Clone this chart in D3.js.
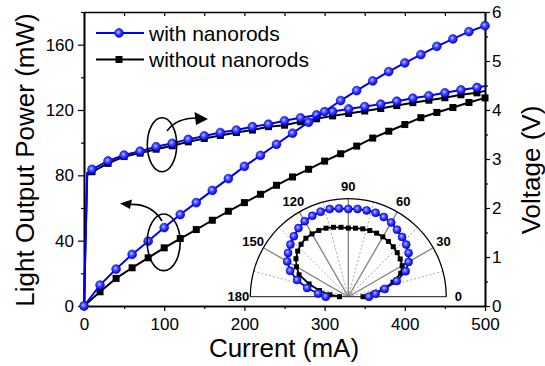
<!DOCTYPE html>
<html>
<head>
<meta charset="utf-8">
<script src="https://d3js.org/d3.v7.min.js"></script>
<style>
body { margin: 0; background: #fff; }
svg text { font-family: "Liberation Sans", Arial, sans-serif; fill: #000; }
</style>
</head>
<body>
<div id="chart"></div>
<script>
// light output power (mW) vs current (mA)
const lightCurrent = [0, 20, 40, 60, 80, 100, 120, 140, 160, 180, 200, 220, 240, 260, 280, 300, 320, 340, 360, 380, 400, 420, 440, 460, 480, 500]
const lightWith = [0, 12.8, 22.6, 31.6, 39.7, 48, 56, 63.3, 70.8, 78, 85.5, 92.2, 99, 105.8, 112.5, 119, 125.8, 131.9, 137.8, 143.5, 148.8, 153.9, 159, 163.5, 168, 171.6]
const lightWithout = [0, 8.7, 16.9, 23.4, 29.5, 35.6, 41.3, 46.8, 52.5, 58, 63.3, 68.4, 73.9, 79, 83.7, 88.7, 93.2, 97.9, 102.8, 107, 111.1, 115.3, 118.5, 121.5, 124.6, 127.4]

// forward voltage (V) vs current (mA)
const voltCurrent = [0, 4, 10, 30, 50, 70, 90, 110, 130, 150, 170, 190, 210, 230, 250, 270, 290, 310, 330, 350, 370, 390, 410, 430, 450, 470, 490, 500]
const voltWith = [0, 2.72, 2.79, 2.96, 3.08, 3.16, 3.25, 3.32, 3.40, 3.47, 3.54, 3.59, 3.66, 3.71, 3.78, 3.84, 3.90, 3.97, 4.02, 4.07, 4.12, 4.18, 4.24, 4.29, 4.35, 4.41, 4.46, 4.49]
const voltWithout = [0, 2.67, 2.74, 2.91, 3.05, 3.12, 3.20, 3.27, 3.35, 3.42, 3.48, 3.54, 3.59, 3.66, 3.69, 3.76, 3.82, 3.88, 3.93, 3.98, 4.03, 4.09, 4.15, 4.20, 4.25, 4.31, 4.35, 4.39]

// far-field pattern (inset), normalised intensity vs angle (deg)
const polarAngle = [0, 6, 12, 18, 24, 30, 36, 42, 48, 54, 60, 66, 72, 78, 84, 90, 96, 102, 108, 114, 120, 126, 132, 138, 144, 150, 156, 162, 168, 174, 180]
const polarWith = [0.21, 0.28, 0.38, 0.52, 0.64, 0.71, 0.76, 0.795, 0.82, 0.845, 0.875, 0.89, 0.90, 0.90, 0.90, 0.895, 0.905, 0.915, 0.912, 0.903, 0.89, 0.865, 0.83, 0.795, 0.76, 0.72, 0.65, 0.55, 0.43, 0.31, 0.23]
const polarWithout = [0.15, 0.25, 0.36, 0.48, 0.585, 0.635, 0.655, 0.672, 0.686, 0.697, 0.705, 0.71, 0.71, 0.708, 0.703, 0.70, 0.712, 0.724, 0.735, 0.74, 0.74, 0.737, 0.72, 0.695, 0.66, 0.61, 0.55, 0.42, 0.30, 0.19, 0.09]
const polarLabels = [0, 30, 60, 90, 120, 150, 180]

// ticks
const xTicks = [0, 100, 200, 300, 400, 500]
const xMinor = [50, 150, 250, 350, 450]
const yLTicks = [0, 40, 80, 120, 160]
const yLMinor = [20, 60, 100, 140, 180]
const yRTicks = [0, 1, 2, 3, 4, 5, 6]
const yRMinor = [0.5, 1.5, 2.5, 3.5, 4.5, 5.5]

const legendNames = ["with nanorods", "without nanorods"]

var width = 545,
    height = 366

const svg = d3.select("#chart")
  .append("svg")
    .attr("width", width)
    .attr("height", height)

// shaded ball marker
const grad = svg.append("defs").append("radialGradient")
    .attr("id", "ball")
    .attr("cx", "42%").attr("cy", "40%").attr("r", "60%")
grad.append("stop").attr("offset", "0%").attr("stop-color", "#c8ccff")
grad.append("stop").attr("offset", "40%").attr("stop-color", "#4650ff")
grad.append("stop").attr("offset", "100%").attr("stop-color", "#0000f0")

// scales
const x = d3.scaleLinear().domain([0, 500]).range([84, 485])
const yL = d3.scaleLinear().domain([0, 180]).range([306, 12])
const yR = d3.scaleLinear().domain([0, 6]).range([306, 12])

function styleAxis(g) {
  g.attr("font-family", null).attr("font-size", 17)
  g.select(".domain").attr("stroke-width", 1.6)
  g.selectAll(".tick line").attr("stroke-width", 1.2)
}

// bottom
svg.append("g").attr("transform", "translate(0,306)")
  .call(d3.axisBottom(x).tickValues(xTicks).tickSize(5).tickPadding(7).tickSizeOuter(0))
  .call(styleAxis)
svg.append("g").attr("transform", "translate(0,306)")
  .call(d3.axisBottom(x).tickValues(xMinor).tickSize(3).tickFormat("").tickSizeOuter(0))
  .call(styleAxis)
// top (ticks inside)
svg.append("g").attr("transform", "translate(0,12)")
  .call(d3.axisBottom(x).tickValues(xTicks.concat(xMinor)).tickSize(4).tickFormat("").tickSizeOuter(0))
  .call(styleAxis)
// left
svg.append("g").attr("transform", "translate(84,0)")
  .call(d3.axisLeft(yL).tickValues(yLTicks).tickSize(6).tickPadding(4).tickSizeOuter(0))
  .call(styleAxis)
svg.append("g").attr("transform", "translate(84,0)")
  .call(d3.axisLeft(yL).tickValues(yLMinor).tickSize(3).tickFormat("").tickSizeOuter(0))
  .call(styleAxis)
// right
svg.append("g").attr("transform", "translate(485,0)")
  .call(d3.axisRight(yR).tickValues(yRTicks).tickSize(5).tickPadding(2).tickFormat(d3.format("d")).tickSizeOuter(0))
  .call(styleAxis)
svg.append("g").attr("transform", "translate(485,0)")
  .call(d3.axisRight(yR).tickValues(yRMinor).tickSize(3).tickFormat("").tickSizeOuter(0))
  .call(styleAxis)

// axis titles
svg.append("text")
    .attr("x", 284).attr("y", 357)
    .attr("text-anchor", "middle")
    .attr("font-size", 26)
  .text("Current (mA)")
svg.append("text")
    .attr("transform", "translate(34,160) rotate(-90)")
    .attr("text-anchor", "middle")
    .attr("font-size", 26)
  .text("Light Output Power (mW)")
svg.append("text")
    .attr("transform", "translate(540,170) rotate(-90)")
    .attr("text-anchor", "middle")
    .attr("font-size", 26)
  .text("Voltage (V)")

// series
const series = [
  { cur: voltCurrent, val: voltWithout, y: yR, color: "#000", mark: "square" },
  { cur: lightCurrent, val: lightWithout, y: yL, color: "#000", mark: "square" },
  { cur: voltCurrent, val: voltWith, y: yR, color: "#0000ff", mark: "ball" },
  { cur: lightCurrent, val: lightWith, y: yL, color: "#0000ff", mark: "ball" }
]

series.forEach(function(s) {
  const pts = s.cur.map(function(c, i) { return [c, s.val[i]] })
  svg.append("path")
      .datum(pts)
      .attr("fill", "none")
      .attr("stroke", s.color)
      .attr("stroke-width", 2)
      .attr("d", d3.line().x(d => x(d[0])).y(d => s.y(d[1])))
  // voltage markers only at the measured 20 mA grid (10, 30, ...)
  const marked = s.y === yR ? pts.filter(d => d[0] % 20 === 10) : pts
  if (s.mark === "ball") {
    svg.append("g").selectAll("circle")
      .data(marked)
      .join("circle")
        .attr("cx", d => x(d[0]))
        .attr("cy", d => s.y(d[1]))
        .attr("r", 4.4)
        .attr("fill", "url(#ball)")
        .attr("stroke", "#0000e0")
        .attr("stroke-width", 0.6)
  } else {
    svg.append("g").selectAll("rect")
      .data(marked)
      .join("rect")
        .attr("x", d => x(d[0]) - 3.5)
        .attr("y", d => s.y(d[1]) - 3.5)
        .attr("width", 7)
        .attr("height", 7)
        .attr("fill", "#000")
  }
})

// legend
const legend = svg.append("g")
legendNames.forEach(function(name, i) {
  const ly = 33 + i * 26.5
  const col = i === 0 ? "#0000ff" : "#000"
  legend.append("line")
      .attr("x1", 96).attr("x2", 144).attr("y1", ly).attr("y2", ly)
      .attr("stroke", col).attr("stroke-width", 2)
  if (i === 0) {
    legend.append("circle").attr("cx", 119).attr("cy", ly).attr("r", 4.4)
        .attr("fill", "url(#ball)").attr("stroke", "#0000e0").attr("stroke-width", 0.6)
  } else {
    legend.append("rect").attr("x", 115.5).attr("y", ly - 3.5).attr("width", 7).attr("height", 7)
        .attr("fill", "#000")
  }
  legend.append("text")
      .attr("x", 149).attr("y", ly + 7.5)
      .attr("font-size", 21)
    .text(name)
})

// annotations: ellipses with arrows
const notes = svg.append("g").attr("fill", "none").attr("stroke", "#000").attr("stroke-width", 1.6)
notes.append("ellipse").attr("cx", 162).attr("cy", 144.7).attr("rx", 14.7).attr("ry", 27)
notes.append("path").attr("d", "M167,131 Q176,118 197,118")
notes.append("ellipse").attr("cx", 163.7).attr("cy", 242.3).attr("rx", 16.5).attr("ry", 28.3)
notes.append("path").attr("d", "M162,221 Q151,203 129,204.5")
svg.append("path").attr("d", "M208,119 L194.5,112 L196,125 Z").attr("fill", "#000")
svg.append("path").attr("d", "M120,203.5 L132,199.5 L130,209 Z").attr("fill", "#000")

// polar inset
const R = 98
const rPolar = d3.scaleLinear().domain([0, 1]).range([0, R])
const toRad = a => (90 - a) * Math.PI / 180
const polar = svg.append("g").attr("transform", "translate(348.3,296.7)")

polar.selectAll(".dotted")
  .data([15, 45, 75, 105, 135, 165])
  .join("line")
    .attr("x2", a => d3.pointRadial(toRad(a), R)[0])
    .attr("y2", a => d3.pointRadial(toRad(a), R)[1])
    .attr("stroke", "#aaa").attr("stroke-width", 1).attr("stroke-dasharray", "2,2")
polar.selectAll(".spoke")
  .data([30, 60, 90, 120, 150])
  .join("line")
    .attr("x2", a => d3.pointRadial(toRad(a), R)[0])
    .attr("y2", a => d3.pointRadial(toRad(a), R)[1])
    .attr("stroke", "#808080").attr("stroke-width", 1.3)
polar.append("line")
    .attr("x1", -R).attr("x2", R)
    .attr("stroke", "#444").attr("stroke-width", 1.2)
polar.append("path")
    .attr("d", d3.arc()({ innerRadius: R, outerRadius: R, startAngle: -Math.PI / 2, endAngle: Math.PI / 2 }))
    .attr("fill", "none").attr("stroke", "#000").attr("stroke-width", 1.3)

polar.selectAll(".plabel")
  .data(polarLabels)
  .join("text")
    .attr("x", a => d3.pointRadial(toRad(a), 110)[0])
    .attr("y", a => d3.pointRadial(toRad(a), 110)[1])
    .attr("text-anchor", "middle")
    .attr("dominant-baseline", "central")
    .attr("font-size", 13)
    .attr("font-weight", "bold")
  .text(a => a)

const radial = d3.lineRadial().angle(d => toRad(d[0])).radius(d => rPolar(d[1]))
const pBlack = polarAngle.map((a, i) => [a, polarWithout[i]])
const pBlue = polarAngle.map((a, i) => [a, polarWith[i]])

polar.append("path").datum(pBlack)
    .attr("fill", "none").attr("stroke", "#000").attr("stroke-width", 1.8)
    .attr("d", radial)
polar.append("g").selectAll("rect")
  .data(pBlack)
  .join("rect")
    .attr("x", d => d3.pointRadial(toRad(d[0]), rPolar(d[1]))[0] - 2.5)
    .attr("y", d => d3.pointRadial(toRad(d[0]), rPolar(d[1]))[1] - 2.5)
    .attr("width", 5).attr("height", 5)
    .attr("fill", "#000")

polar.append("path").datum(pBlue)
    .attr("fill", "none").attr("stroke", "#0000ff").attr("stroke-width", 1.8)
    .attr("d", radial)
polar.append("g").selectAll("circle")
  .data(pBlue)
  .join("circle")
    .attr("cx", d => d3.pointRadial(toRad(d[0]), rPolar(d[1]))[0])
    .attr("cy", d => d3.pointRadial(toRad(d[0]), rPolar(d[1]))[1])
    .attr("r", 4)
    .attr("fill", "url(#ball)")
    .attr("stroke", "#0000e0")
    .attr("stroke-width", 0.6)
</script>
</body>
</html>
